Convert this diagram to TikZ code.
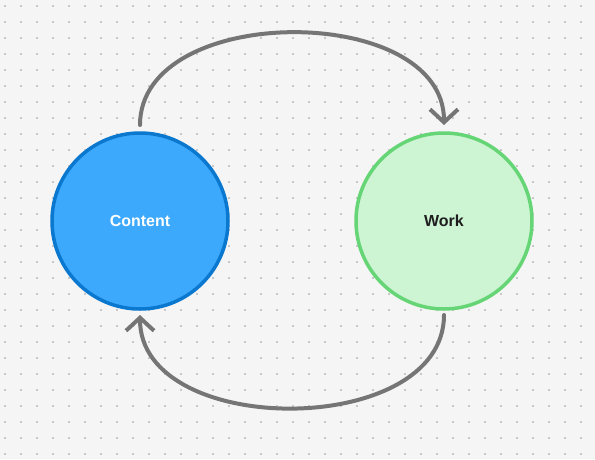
\documentclass[tikz,border=0pt]{standalone}
\usepackage{fontspec}
\setmainfont{Liberation Sans}
\usetikzlibrary{arrows.meta}
\definecolor{bgGray}{HTML}{F5F5F5}
\definecolor{dotGray}{HTML}{C8C8C8}
\definecolor{lineGray}{HTML}{757575}
\definecolor{blueFill}{HTML}{3DA9FC}
\definecolor{blueLine}{HTML}{0B78D0}
\definecolor{greenFill}{HTML}{CDF4D3}
\definecolor{greenLine}{HTML}{66D575}
\definecolor{darkText}{HTML}{1E1E1E}
\tikzset{
  ball/.style={circle, minimum size=176pt, inner sep=0pt, outer sep=0pt,
    line width=3.5pt, font=\fontsize{16}{18}\selectfont\bfseries},
  loop/.style={line width=4pt, color=lineGray, line cap=round, line join=round,
    -{Straight Barb[length=13pt, width=28pt, line width=4pt]}}
}

\begin{document}
\begin{tikzpicture}[x=1pt, y=1pt]
			%%%%% START %%%%%
			
			\fill[bgGray] (0, 0) rectangle (595, -459);
			\useasboundingbox (0, 0) rectangle (595, -459);
			
			\foreach \x in {4,20,...,596}
				\foreach \y in {5,21,...,453}
					\fill[dotGray] (\x, -\y) rectangle +(2, -2);
			
			\node[ball, draw=blueLine, fill=blueFill, text=white] (content) at (140, -221) {Content};
			\node[ball, draw=greenLine, fill=greenFill, text=darkText] (work) at (444, -221) {Work};
			
			\draw[loop] ([yshift=8pt]content.north) .. controls +(0, 123) and +(0, 123) .. ([yshift=8pt]work.north);
			\draw[loop] ([yshift=-6pt]work.south) .. controls +(0, -124) and +(0, -124) .. ([yshift=-6pt]content.south);
			
			%%%%% END %%%%%
		\end{tikzpicture}
\end{document}
